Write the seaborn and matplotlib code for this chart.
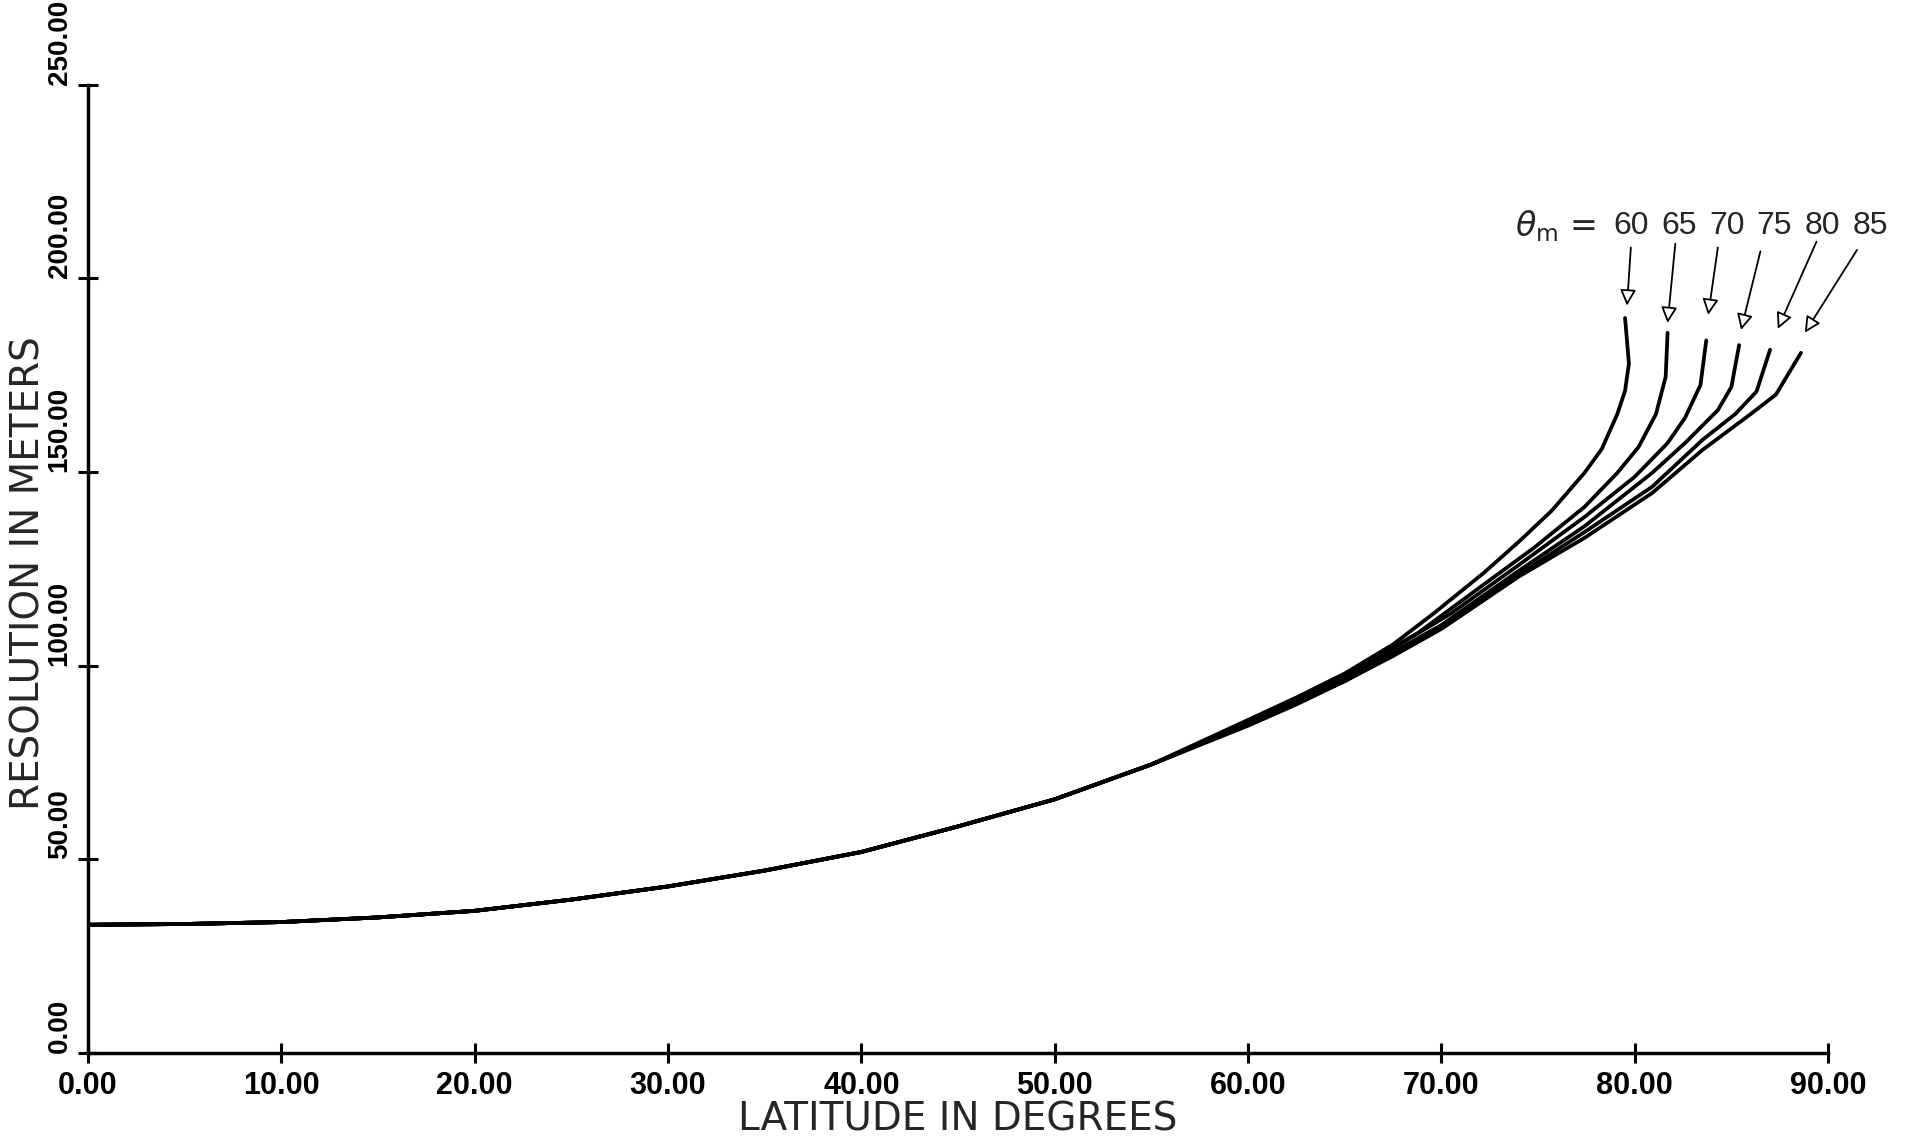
import pandas as pd
import seaborn as sns
import matplotlib.pyplot as plt

# Resolution vs latitude, one curve per theta_m
lat_base = [0, 5, 10, 15, 20, 25, 30, 35, 40, 45, 50, 55]
res_base = [33.1, 33.3, 33.8, 35.0, 36.7, 39.6, 43.0, 47.1, 51.9, 58.5, 65.5, 74.5]

thetas = [60, 65, 70, 75, 80, 85]

lat_60 = [60, 62.5, 65, 67.5, 69.6, 72.2, 74.0, 75.7, 77.4, 78.3, 79.1, 79.5, 79.7, 79.5]
res_60 = [86.0, 91.8, 98.0, 105.5, 113.5, 124.0, 132.0, 140.0, 149.8, 156.0, 165.0, 171.0, 178.0, 189.8]
lat_65 = [60, 62.5, 65, 68.8, 72.2, 74.8, 77.4, 79.1, 80.2, 81.1, 81.6, 81.7]
res_65 = [85.5, 91.3, 97.5, 108.5, 121.0, 130.5, 141.0, 149.8, 156.5, 165.0, 174.6, 186.0]
lat_70 = [60, 62.5, 65, 67.5, 70.5, 74.0, 77.4, 80.0, 81.7, 82.6, 83.4, 83.7]
res_70 = [85.0, 90.8, 97.0, 104.5, 113.5, 126.0, 138.4, 148.8, 157.5, 164.0, 172.5, 184.0]
lat_75 = [60, 62.5, 65, 67.5, 70, 74.0, 77.4, 80.9, 82.6, 84.3, 85.0, 85.4]
res_75 = [85.0, 90.6, 96.5, 103.5, 110.5, 124.5, 136.0, 149.8, 157.5, 166.0, 172.0, 182.8]
lat_80 = [60, 62.5, 65, 67.5, 70, 74.0, 77.4, 80.9, 83.5, 85.2, 86.3, 87.0]
res_80 = [85.0, 90.3, 96.0, 103.0, 110.0, 123.5, 134.5, 146.2, 158.3, 165.0, 170.8, 181.6]
lat_85 = [60, 62.5, 65, 67.5, 70, 74.0, 77.4, 80.9, 83.5, 86.0, 87.3, 88.6]
res_85 = [84.5, 90.0, 96.0, 102.5, 109.5, 123.0, 133.0, 144.6, 155.7, 165.0, 170.0, 180.8]

tails = {60: (lat_60, res_60), 65: (lat_65, res_65), 70: (lat_70, res_70),
         75: (lat_75, res_75), 80: (lat_80, res_80), 85: (lat_85, res_85)}

xticks = [0, 10, 20, 30, 40, 50, 60, 70, 80, 90]
yticks = [0, 50, 100, 150, 200, 250]

# annotation layout (arrow start / tip, label positions)
arrow_start = [(79.8, 208), (82.1, 209), (84.3, 208), (86.5, 207), (89.4, 209.5), (91.5, 207.4)]
arrow_tip = [(79.6, 193), (81.7, 188.5), (83.8, 190.6), (85.5, 186.7), (87.4, 187), (88.8, 186)]
label_x = [79.8, 82.3, 84.8, 87.2, 89.7, 92.2]

rows = []
for t in thetas:
    xs = lat_base + tails[t][0]
    ys = res_base + tails[t][1]
    for i in range(len(xs)):
        rows.append({'lat': xs[i], 'res': ys[i], 'theta': t})
df = pd.DataFrame(rows)

sns.set_style('ticks')
plt.rcParams['font.family'] = ['DejaVu Sans']

fig = plt.figure(figsize=(19.13, 11.47), dpi=100)
ax = fig.add_axes([0.046, 0.082, 0.9096, 0.844])

sns.lineplot(data=df, x='lat', y='res', units='theta', estimator=None, sort=False,
             color='black', lw=2.7, ax=ax)

ax.set_xlim(0, 90)
ax.set_ylim(0, 250)
sns.despine(ax=ax)
for s in ['left', 'bottom']:
    ax.spines[s].set_linewidth(2.5)
    ax.spines[s].set_color('black')

tickfont = ['Liberation Sans', 'DejaVu Sans']
ax.set_xticks(xticks)
ax.set_xticklabels([f'{v:.2f}' for v in xticks], fontsize=22, fontweight='bold',
                   family=tickfont)
ax.set_yticks(yticks)
ax.set_yticklabels([f'{v:.2f}' for v in yticks], fontsize=20, fontweight='bold',
                   family=tickfont, rotation=90, va='bottom')
ax.tick_params(direction='inout', length=14, width=2.2, colors='black')
ax.tick_params(axis='x', pad=6)
ax.tick_params(axis='y', pad=4)

ax.set_xlabel('LATITUDE IN DEGREES', fontsize=28)
ax.xaxis.set_label_coords(0.5, -0.069)
ax.xaxis.label.set_va('center')
ax.set_ylabel('RESOLUTION IN METERS', fontsize=28)
ax.yaxis.set_label_coords(-0.034, 0.496)
ax.yaxis.label.set_va('center')

# theta_m labels with arrows
ax.text(78.0, 213.5, r'$\theta_{\rm m}$ =', fontsize=24, ha='right', va='center',
        family=['DejaVu Serif'], clip_on=False)
for i, t in enumerate(thetas):
    ax.text(label_x[i], 213.5, str(t), fontsize=23, ha='center', va='center',
            family=['Liberation Sans', 'DejaVu Sans'], clip_on=False)
    ax.annotate('', xy=arrow_tip[i], xytext=arrow_start[i], annotation_clip=False,
                arrowprops=dict(arrowstyle='-|>', lw=1.3, color='black', fc='white',
                                mutation_scale=24, shrinkA=0, shrinkB=0))

fig.savefig('out.png', dpi=100, facecolor='white')
